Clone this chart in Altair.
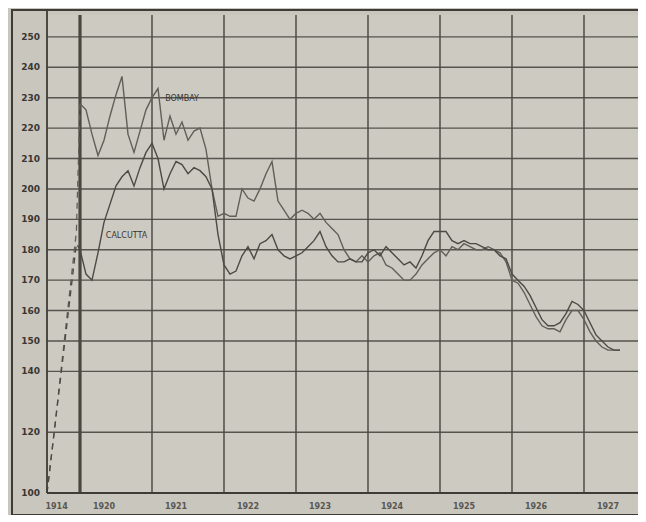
import altair as alt
import pandas as pd

# ---- data (month index: 0 = Jan 1920; pre-1920 section compressed) ----
years = ["1914", "1920", "1921", "1922", "1923", "1924", "1925", "1926", "1927"]
y_ticks = [100, 120, 140, 150, 160, 170, 180, 190, 200, 210, 220, 230, 240, 250]

bombay = [228, 226, 218, 211, 216, 224, 231, 237, 218, 212, 219, 226,
          230, 233, 216, 224, 218, 222, 216, 219, 220, 213, 200, 191,
          192, 191, 191, 200, 197, 196, 200, 205, 209, 196, 193, 190,
          192, 193, 192, 190, 192, 189, 187, 185, 180, 177, 176, 178,
          176, 178, 179, 175, 174, 172, 170, 170, 172, 175, 177, 179,
          180, 178, 181, 180, 182, 181, 180, 180, 181, 180, 179, 176,
          170, 169, 166, 162, 158, 155, 154, 154, 153, 157, 160, 160,
          157, 153, 150, 148, 147, 147, 147]
calcutta = [180, 172, 170, 179, 189, 195, 201, 204, 206, 201, 207, 212,
            215, 210, 200, 205, 209, 208, 205, 207, 206, 204, 200, 185,
            175, 172, 173, 178, 181, 177, 182, 183, 185, 180, 178, 177,
            178, 179, 181, 183, 186, 181, 178, 176, 176, 177, 176, 176,
            179, 180, 178, 181, 179, 177, 175, 176, 174, 178, 183, 186,
            186, 186, 183, 182, 183, 182, 182, 181, 180, 180, 178, 177,
            172, 170, 168, 165, 161, 157, 155, 155, 156, 159, 163, 162,
            160, 156, 152, 150, 148, 147, 147]

# compressed pre-1920 section (1914 base = 100), drawn dashed
pre_t = [-5.5, -4.3, -0.6]
pre_bombay = [100, 120, 186]
pre_calcutta = [100, 120, 182]

series_names = ["BOMBAY", "CALCUTTA"]
label_t = [14.2, 4.3]
label_v = [229.5, 184.5]

# ---- tables ----
rows = []
for i, v in enumerate(bombay):
    rows.append({"t": i, "v": v, "s": "Bombay"})
for i, v in enumerate(calcutta):
    rows.append({"t": i, "v": v, "s": "Calcutta"})
df = pd.DataFrame(rows)

pre_rows = []
for t, v in zip(pre_t + [0], pre_bombay + [bombay[0]]):
    pre_rows.append({"t": t, "v": v, "s": "Bombay"})
for t, v in zip(pre_t + [0], pre_calcutta + [calcutta[0]]):
    pre_rows.append({"t": t, "v": v, "s": "Calcutta"})
pre_df = pd.DataFrame(pre_rows)

yr_df = pd.DataFrame({"label": years,
                      "t": [-3.9] + [(int(y) - 1920) * 12 + 4 for y in years[1:]]})
lab_df = pd.DataFrame({"label": series_names, "t": label_t, "v": label_v})
grid_df = pd.DataFrame({"t": [0, 12, 24, 36, 48, 60, 72, 84]})
ytick_df = pd.DataFrame({"v": y_ticks, "label": [str(v) for v in y_ticks]})

W, H = 591, 478
INK = "#4a4640"
BG = "#c9c6be"

xs = alt.Scale(domain=[-5.5, 93], nice=False, zero=False)
ys = alt.Scale(domain=[100, 257.2], nice=False, zero=False)
X = alt.X("t:Q", scale=xs, axis=None)
Y = alt.Y("v:Q", scale=ys, axis=None)
cscale = alt.Scale(domain=["Bombay", "Calcutta"], range=["#625e58", "#4d4944"])

hgrid = alt.Chart(ytick_df).mark_rule(color=INK, strokeWidth=1.4, opacity=0.9).encode(
    y=Y, x=alt.value(0), x2=alt.value(W))
ylabels = alt.Chart(ytick_df).mark_text(align="right", baseline="middle",
                                        font="DejaVu Sans", fontWeight="bold",
                                        fontSize=9, color="#3a3632").encode(
    y=Y, x=alt.value(-7), text="label:N")

vgrid = alt.Chart(grid_df).mark_rule(color=INK, strokeWidth=1.6, opacity=0.9).encode(x=X)
vgrid0 = alt.Chart(grid_df.head(1)).mark_rule(color=INK, strokeWidth=3.2).encode(x=X)

lines = alt.Chart(df).mark_line(strokeWidth=1.4, strokeJoin="miter").encode(
    x=X, y=Y, color=alt.Color("s:N", scale=cscale, legend=None), detail="s:N")

pre = alt.Chart(pre_df).mark_line(strokeWidth=1.3, strokeDash=[6, 5]).encode(
    x=X, y=Y, color=alt.Color("s:N", scale=cscale, legend=None), detail="s:N")

labels = alt.Chart(lab_df).mark_text(align="left", baseline="middle",
                                     font="DejaVu Sans", fontSize=8,
                                     color="#3a3632").encode(
    x=X, y=Y, text="label:N")

xlabels = alt.Chart(yr_df).mark_text(baseline="middle", font="DejaVu Sans",
                                     fontSize=8, fontWeight="bold",
                                     color="#5a5650").encode(
    x=X, y=alt.value(H + 14), text="label:N")

frame = alt.Chart(grid_df.head(1)).mark_rect(fill=None, stroke="#3f3b36",
                                             strokeWidth=2).encode(
    x=alt.value(-35), x2=alt.value(W + 20),
    y=alt.value(-5), y2=alt.value(H + 22))

bottom = alt.Chart(grid_df.head(1)).mark_rule(color="#3f3b36", strokeWidth=2.2).encode(
    x=alt.value(0), x2=alt.value(W), y=alt.value(H))
left = alt.Chart(grid_df.head(1)).mark_rule(color="#3f3b36", strokeWidth=1.8).encode(
    x=alt.value(0), y=alt.value(-5), y2=alt.value(H))

chart = alt.layer(hgrid, vgrid, vgrid0, lines, pre, labels, ylabels, xlabels,
                  frame, bottom, left).properties(
    width=W, height=H,
    autosize=alt.AutoSizeParams(type="none"),
    padding={"left": 39, "top": 7, "right": 0, "bottom": 22},
    background=BG,
).configure_view(stroke=None, fill="#cdcac2")

chart.save("out.html", embed_options={"renderer": "svg", "actions": False})
